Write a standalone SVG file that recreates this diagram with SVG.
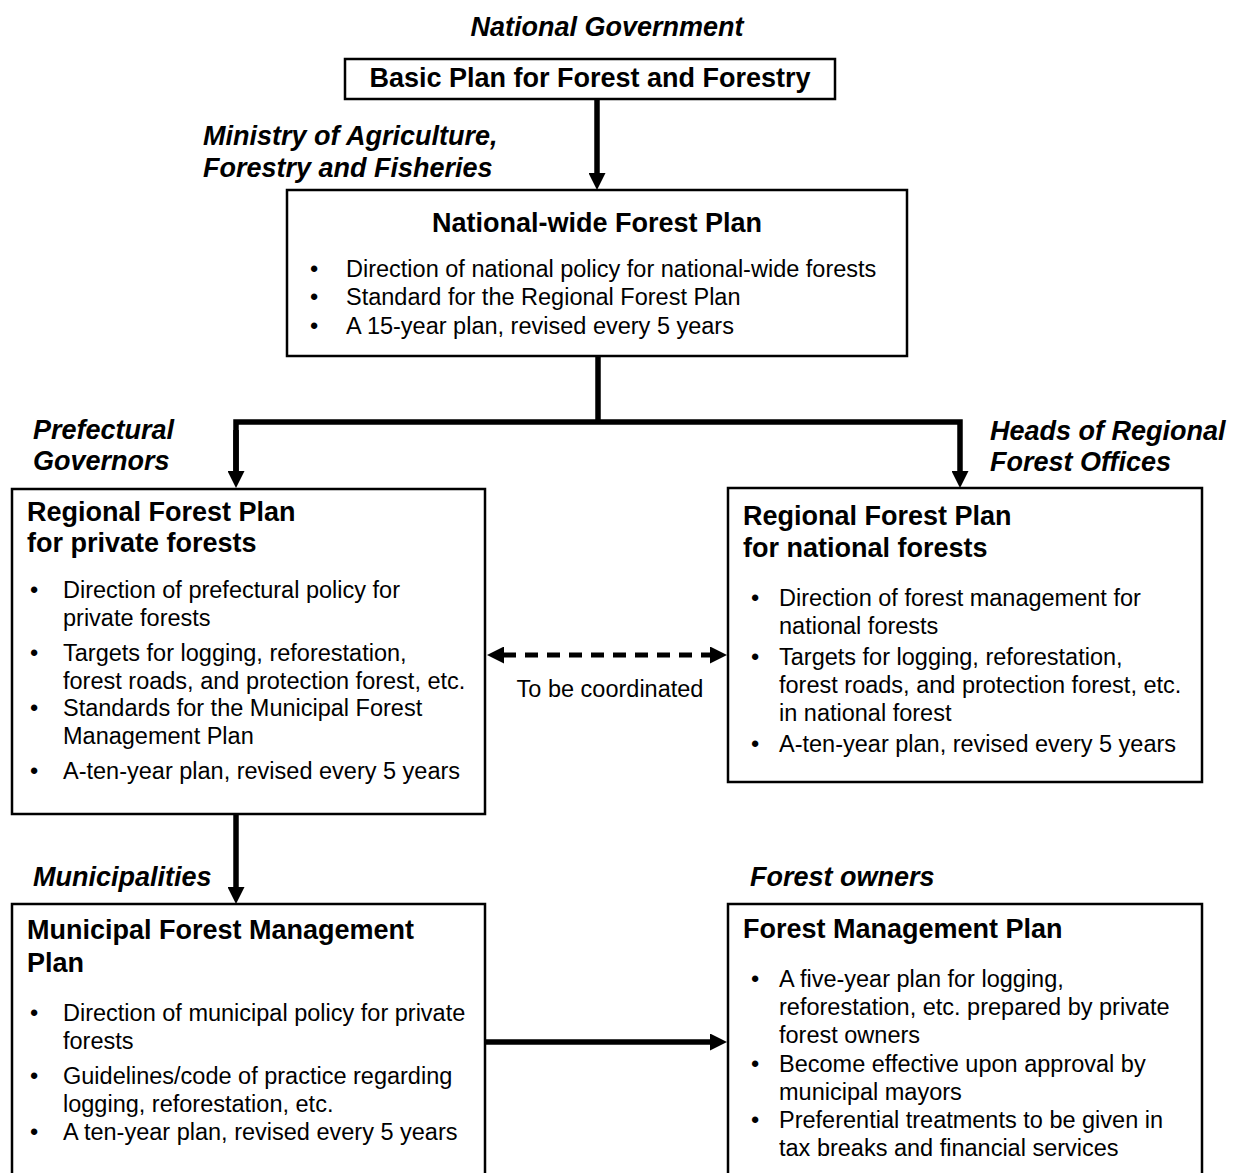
<svg xmlns="http://www.w3.org/2000/svg" width="1234" height="1173" viewBox="0 0 1234 1173">
<defs>
<style>
text{font-family:"Liberation Sans",Arial,sans-serif;fill:#000}
.t{font-size:27px;font-weight:bold}
.r{font-size:27px;font-weight:bold;font-style:italic}
.b{font-size:23.5px}
.box{fill:#fff;stroke:#000;stroke-width:2.5}
.c{fill:none;stroke:#000;stroke-width:5.5}
.d{fill:none;stroke:#000;stroke-width:5;stroke-dasharray:13 9}
</style>
<marker id="ah" markerUnits="userSpaceOnUse" markerWidth="17" markerHeight="17" refX="1" refY="8.5" orient="auto-start-reverse" viewBox="0 0 17 17">
<path d="M0,0 L17,8.5 L0,17 z" fill="#000"/>
</marker>
</defs>
<rect width="1234" height="1173" fill="#fff"/>

<g id="connectors">
<line class="c" x1="597" y1="98" x2="597" y2="174" marker-end="url(#ah)"/>
<polyline class="c" points="598,356 598,422"/>
<polyline class="c" points="236,472 236,422 960,422 960,472" marker-end="url(#ah)"/>
<line class="c" x1="236" y1="430" x2="236" y2="472" marker-end="url(#ah)"/>
<line class="c" x1="236" y1="814" x2="236" y2="888" marker-end="url(#ah)"/>
<line class="c" x1="486" y1="1042" x2="711" y2="1042" marker-end="url(#ah)"/>
<line class="d" x1="503" y1="655" x2="711" y2="655" marker-start="url(#ah)" marker-end="url(#ah)"/>
</g>

<g id="label-national-government"><text class="r" x="607" y="36" text-anchor="middle">National Government</text></g>

<g id="node-basic-plan">
<rect class="box" x="345" y="59" width="490" height="40"/>
<text class="t" x="590" y="87" text-anchor="middle">Basic Plan for Forest and Forestry</text>
</g>

<g id="label-ministry">
<text class="r" x="203" y="145">Ministry of Agriculture,</text>
<text class="r" x="203" y="177">Forestry and Fisheries</text>
</g>

<g id="node-national-wide">
<rect class="box" x="287" y="190" width="620" height="166"/>
<text class="t" x="597" y="232" text-anchor="middle">National-wide Forest Plan</text>
<text class="b" x="310" y="277">•</text><text class="b" x="346" y="277">Direction of national policy for national-wide forests</text>
<text class="b" x="310" y="305">•</text><text class="b" x="346" y="305">Standard for the Regional Forest Plan</text>
<text class="b" x="310" y="334">•</text><text class="b" x="346" y="334">A 15-year plan, revised every 5 years</text>
</g>

<g id="label-prefectural">
<text class="r" x="33" y="439">Prefectural</text>
<text class="r" x="33" y="470">Governors</text>
</g>
<g id="label-heads">
<text class="r" x="990" y="440">Heads of Regional</text>
<text class="r" x="990" y="471">Forest Offices</text>
</g>

<g id="node-regional-private">
<rect class="box" x="12" y="489" width="473" height="325"/>
<text class="t" x="27" y="521">Regional Forest Plan</text>
<text class="t" x="27" y="552">for private forests</text>
<text class="b" x="30" y="598">•</text><text class="b" x="63" y="598">Direction of prefectural policy for</text>
<text class="b" x="63" y="626">private forests</text>
<text class="b" x="30" y="661">•</text><text class="b" x="63" y="661">Targets for logging, reforestation,</text>
<text class="b" x="63" y="689">forest roads, and protection forest, etc.</text>
<text class="b" x="30" y="716">•</text><text class="b" x="63" y="716">Standards for the Municipal Forest</text>
<text class="b" x="63" y="744">Management Plan</text>
<text class="b" x="30" y="779">•</text><text class="b" x="63" y="779">A-ten-year plan, revised every 5 years</text>
</g>

<g id="node-regional-national">
<rect class="box" x="728" y="488" width="474" height="294"/>
<text class="t" x="743" y="525">Regional Forest Plan</text>
<text class="t" x="743" y="557">for national forests</text>
<text class="b" x="751" y="606">•</text><text class="b" x="779" y="606">Direction of forest management for</text>
<text class="b" x="779" y="634">national forests</text>
<text class="b" x="751" y="665">•</text><text class="b" x="779" y="665">Targets for logging, reforestation,</text>
<text class="b" x="779" y="693">forest roads, and protection forest, etc.</text>
<text class="b" x="779" y="721">in national forest</text>
<text class="b" x="751" y="752">•</text><text class="b" x="779" y="752">A-ten-year plan, revised every 5 years</text>
</g>

<g id="label-coordinated"><text class="b" x="610" y="697" text-anchor="middle">To be coordinated</text></g>

<g id="label-municipalities"><text class="r" x="33" y="886">Municipalities</text></g>
<g id="label-owners"><text class="r" x="750" y="886">Forest owners</text></g>

<g id="node-municipal">
<rect class="box" x="12" y="904" width="473" height="290"/>
<text class="t" x="27" y="939">Municipal Forest Management</text>
<text class="t" x="27" y="972">Plan</text>
<text class="b" x="30" y="1021">•</text><text class="b" x="63" y="1021">Direction of municipal policy for private</text>
<text class="b" x="63" y="1049">forests</text>
<text class="b" x="30" y="1084">•</text><text class="b" x="63" y="1084">Guidelines/code of practice regarding</text>
<text class="b" x="63" y="1112">logging, reforestation, etc.</text>
<text class="b" x="30" y="1140">•</text><text class="b" x="63" y="1140">A ten-year plan, revised every 5 years</text>
</g>

<g id="node-forest-management">
<rect class="box" x="728" y="904" width="474" height="290"/>
<text class="t" x="743" y="938">Forest Management Plan</text>
<text class="b" x="751" y="987">•</text><text class="b" x="779" y="987">A five-year plan for logging,</text>
<text class="b" x="779" y="1015">reforestation, etc. prepared by private</text>
<text class="b" x="779" y="1043">forest owners</text>
<text class="b" x="751" y="1072">•</text><text class="b" x="779" y="1072">Become effective upon approval by</text>
<text class="b" x="779" y="1100">municipal mayors</text>
<text class="b" x="751" y="1128">•</text><text class="b" x="779" y="1128">Preferential treatments to be given in</text>
<text class="b" x="779" y="1156">tax breaks and financial services</text>
</g>
</svg>
